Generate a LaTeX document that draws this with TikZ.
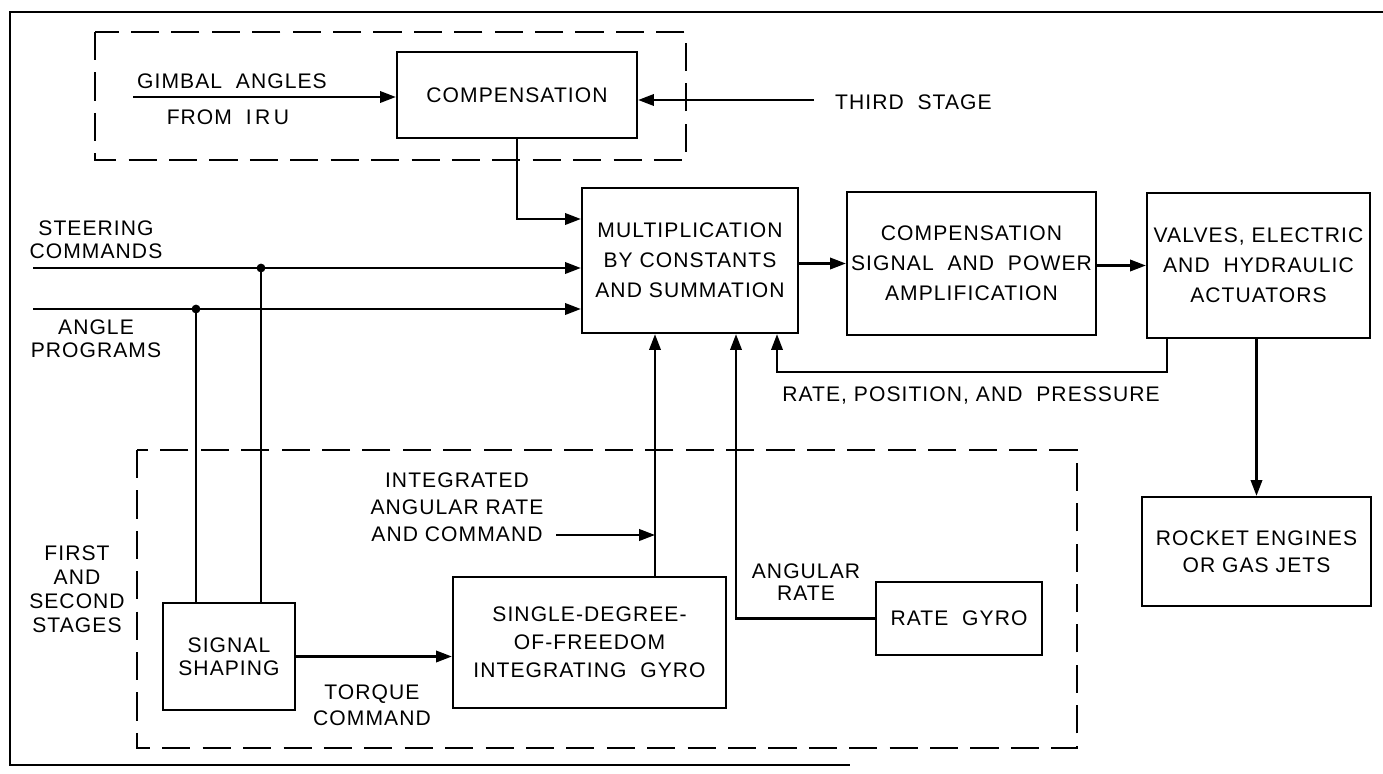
\documentclass[tikz,border=0pt]{standalone}
\usepackage{fontspec}
\setmainfont{Liberation Sans}[LetterSpace=5]
\usetikzlibrary{arrows.meta}

\begin{document}
\begin{tikzpicture}[x=0.02cm,y=-0.02cm,line width=1.3pt,
  >={Triangle[length=9pt,width=6.5pt]},
  blk/.style={draw,align=center,inner sep=0pt},
  sz/.style 2 args={minimum width=#1*0.02cm,minimum height=#2*0.02cm},
  lbl/.style={align=center,inner sep=0pt},
  ls/.style={font=\fontsize{12}{#1}\selectfont},
  dashbox/.style={dash pattern=on 16pt off 7pt},
  font=\fontsize{12}{17}\selectfont]
\useasboundingbox (0,0) rectangle (1383,774);
\draw (1383,12) -- (10,12) -- (10,765) -- (850,765);
\draw[dashbox] (95,32) rectangle (686,160);
\draw[dashbox] (137,450) rectangle (1077,748);

% blocks
\node[blk,sz={240}{86}] (comp) at (517,95) {COMPENSATION};
\node[blk,sz={216}{145}] (mult) at (690,260.5) {MULTIPLICATION\\BY CONSTANTS\\AND SUMMATION};
\node[blk,sz={249}{143}] (amp) at (971.5,263.5) {COMPENSATION\\SIGNAL\ \ AND\ \ POWER\\AMPLIFICATION};
\node[blk,sz={223}{145}] (valves) at (1258.5,265.5) {VALVES, ELECTRIC\\AND\ \ HYDRAULIC\\ACTUATORS};
\node[blk,sz={229}{109},ls=15.4pt] (rocket) at (1256.5,551.5) {ROCKET ENGINES\\OR GAS JETS};
\node[blk,sz={132}{107},ls=13pt] (shaping) at (229,656.5) {SIGNAL\\SHAPING};
\node[blk,sz={273}{131},ls=16pt] (intgyro) at (589.5,642.5) {SINGLE-DEGREE-\\OF-FREEDOM\\INTEGRATING\ \ GYRO};
\node[blk,sz={166}{73}] (rategyro) at (959,618.5) {RATE\ \ GYRO};

% labels
\node[lbl] (gimbal) at (232,81) {GIMBAL\ \ ANGLES};
\node[lbl] (iru) at (228,117) {FROM\ \ I\,R\,U};
\node[lbl,anchor=west] (third) at (834,102) {THIRD\ \ STAGE};
\node[lbl,ls=13pt] (steer) at (96,239.5) {STEERING\\COMMANDS};
\node[lbl,ls=13pt] (prog) at (96,338.5) {ANGLE\\PROGRAMS};
\node[lbl] (rpp) at (971,395) {RATE, POSITION, AND\ \ PRESSURE};
\node[lbl,ls=13.7pt] (stages) at (77,589) {FIRST\\AND\\SECOND\\STAGES};
\node[lbl,ls=15.4pt] (intrate) at (457,507) {INTEGRATED\\ANGULAR RATE\\AND COMMAND};
\node[lbl,ls=14.8pt] (torque) at (372,705) {TORQUE\\COMMAND};
\node[lbl,ls=12.5pt] (angrate) at (806,582) {ANGULAR\\RATE};

% points
\coordinate (gi) at (133,97); \coordinate (ts) at (814,100);
\coordinate (cm) at (0,219);
\coordinate (sc) at (33,268); \coordinate (ap) at (33,309);
\coordinate (d1) at (261,268); \coordinate (d2) at (196,309);
\coordinate (xi) at (655,0); \coordinate (xr) at (736,0);
\coordinate (ia) at (556,535);
\coordinate (fb1) at (1167,372); \coordinate (fb2) at (777,372);

% connectors
\draw[->] (gi) -- (gi -| comp.west);
\draw[->] (ts) -- (ts -| comp.east);
\draw[->] (comp.south) |- (cm -| mult.west);
\draw[->] (sc) -- (sc -| mult.west);
\draw[->] (ap) -- (ap -| mult.west);
\draw (d1) -- (d1 |- shaping.north) (d2) -- (d2 |- shaping.north);
\fill (d1) circle (2.5pt) (d2) circle (2.5pt);
\draw[->] (mult.east |- amp) -- (amp.west);
\draw[->] (amp.east |- valves) -- (valves.west);
\draw[->] (valves.south -| rocket.north) -- (rocket.north);
\draw[->] (valves.south -| fb1) -- (fb1) -- (fb2) -- (fb2 |- mult.south);
\draw[->] (shaping.east) -- (shaping.east -| intgyro.west);
\draw[->] (intgyro.north -| xi) -- (xi |- mult.south);
\draw[->] (ia) -- (ia -| xi);
\draw[->] (rategyro.west) -| (xr |- mult.south);
\end{tikzpicture}
\end{document}
